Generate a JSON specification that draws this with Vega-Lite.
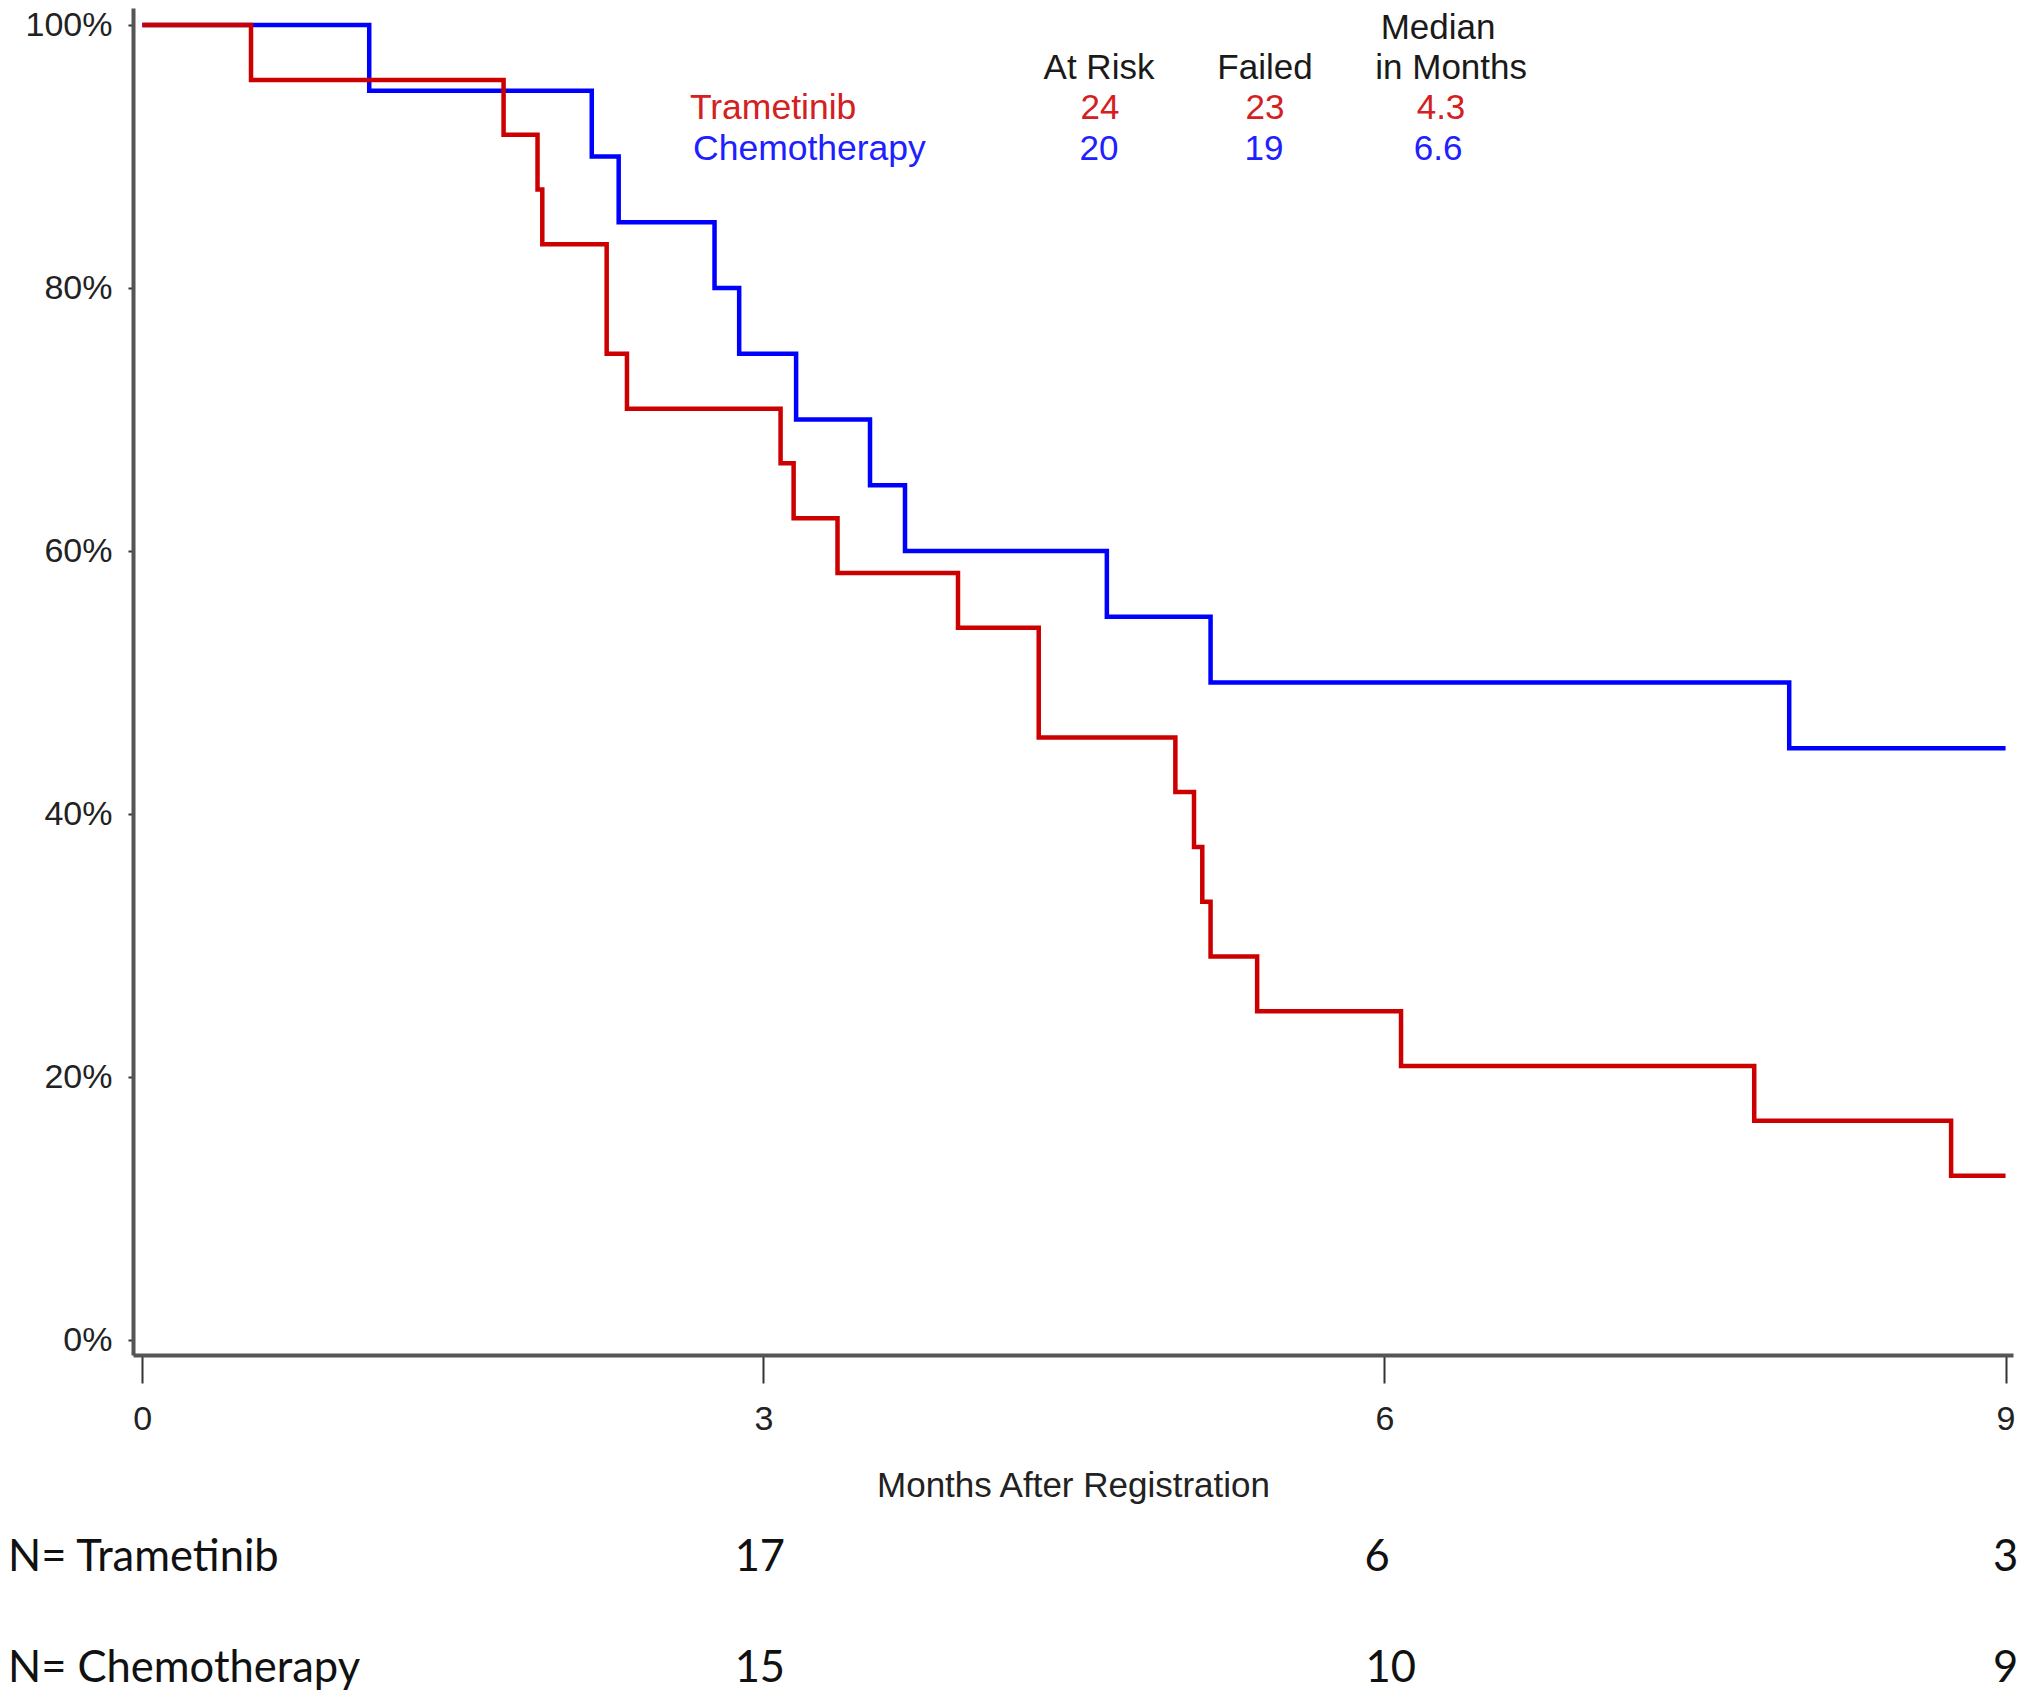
{
  "$schema": "https://vega.github.io/schema/vega-lite/v6.json",
  "width": 1880,
  "height": 1347,
  "autosize": {"type": "none"},
  "padding": {"left": 133, "top": 8, "right": 17, "bottom": 341},
  "background": "white",
  "config": {"view": {"stroke": null}, "font": "Liberation Sans"},
  "datasets": {
    "curves": [
      {"arm": "Trametinib", "month": 0, "surv": 1.0},
      {"arm": "Trametinib", "month": 0.525, "surv": 0.9583},
      {"arm": "Trametinib", "month": 1.745, "surv": 0.9167},
      {"arm": "Trametinib", "month": 1.909, "surv": 0.875},
      {"arm": "Trametinib", "month": 1.932, "surv": 0.8333},
      {"arm": "Trametinib", "month": 2.243, "surv": 0.75},
      {"arm": "Trametinib", "month": 2.341, "surv": 0.7083},
      {"arm": "Trametinib", "month": 3.083, "surv": 0.6667},
      {"arm": "Trametinib", "month": 3.146, "surv": 0.625},
      {"arm": "Trametinib", "month": 3.358, "surv": 0.5833},
      {"arm": "Trametinib", "month": 3.94, "surv": 0.5417},
      {"arm": "Trametinib", "month": 4.33, "surv": 0.4583},
      {"arm": "Trametinib", "month": 4.99, "surv": 0.4167},
      {"arm": "Trametinib", "month": 5.08, "surv": 0.375},
      {"arm": "Trametinib", "month": 5.12, "surv": 0.3333},
      {"arm": "Trametinib", "month": 5.16, "surv": 0.2917},
      {"arm": "Trametinib", "month": 5.385, "surv": 0.25},
      {"arm": "Trametinib", "month": 6.08, "surv": 0.2083},
      {"arm": "Trametinib", "month": 7.786, "surv": 0.1667},
      {"arm": "Trametinib", "month": 8.737, "surv": 0.125},
      {"arm": "Trametinib", "month": 9.0, "surv": 0.125},
      {"arm": "Chemotherapy", "month": 0, "surv": 1.0},
      {"arm": "Chemotherapy", "month": 1.096, "surv": 0.95},
      {"arm": "Chemotherapy", "month": 2.171, "surv": 0.9},
      {"arm": "Chemotherapy", "month": 2.301, "surv": 0.85},
      {"arm": "Chemotherapy", "month": 2.764, "surv": 0.8},
      {"arm": "Chemotherapy", "month": 2.883, "surv": 0.75},
      {"arm": "Chemotherapy", "month": 3.158, "surv": 0.7},
      {"arm": "Chemotherapy", "month": 3.515, "surv": 0.65},
      {"arm": "Chemotherapy", "month": 3.684, "surv": 0.6},
      {"arm": "Chemotherapy", "month": 4.659, "surv": 0.55},
      {"arm": "Chemotherapy", "month": 5.16, "surv": 0.5},
      {"arm": "Chemotherapy", "month": 7.955, "surv": 0.45},
      {"arm": "Chemotherapy", "month": 9.0, "surv": 0.45}
    ],
    "summary": [
      {"arm": "header", "label": "Median", "month": 6.259, "surv": 0.998},
      {"arm": "header", "label": "At Risk", "month": 4.621, "surv": 0.967},
      {"arm": "header", "label": "Failed", "month": 5.423, "surv": 0.967},
      {"arm": "header", "label": "in Months", "month": 6.322, "surv": 0.967},
      {"arm": "Trametinib", "label": "24", "month": 4.626, "surv": 0.9366},
      {"arm": "Trametinib", "label": "23", "month": 5.423, "surv": 0.9366},
      {"arm": "Trametinib", "label": "4.3", "month": 6.273, "surv": 0.9366},
      {"arm": "Chemotherapy", "label": "20", "month": 4.621, "surv": 0.9055},
      {"arm": "Chemotherapy", "label": "19", "month": 5.418, "surv": 0.9055},
      {"arm": "Chemotherapy", "label": "6.6", "month": 6.259, "surv": 0.9055}
    ],
    "armnames": [
      {"arm": "Trametinib", "label": "Trametinib", "month": 2.645, "surv": 0.9366},
      {"arm": "Chemotherapy", "label": "Chemotherapy", "month": 2.66, "surv": 0.9055}
    ],
    "risklabels": [
      {"arm": "Trametinib", "label": "N= Trametinib", "month": -0.649, "surv": -0.1755},
      {"arm": "Chemotherapy", "label": "N= Chemotherapy", "month": -0.649, "surv": -0.26}
    ],
    "risk": [
      {"arm": "Trametinib", "label": "17", "month": 2.983, "surv": -0.1755},
      {"arm": "Trametinib", "label": "6", "month": 5.964, "surv": -0.1755},
      {"arm": "Trametinib", "label": "3", "month": 9.0, "surv": -0.1755},
      {"arm": "Chemotherapy", "label": "15", "month": 2.983, "surv": -0.26},
      {"arm": "Chemotherapy", "label": "10", "month": 6.03, "surv": -0.26},
      {"arm": "Chemotherapy", "label": "9", "month": 9.0, "surv": -0.26}
    ]
  },
  "encoding": {
    "x": {
      "field": "month",
      "type": "quantitative",
      "scale": {"domain": [-0.045, 9.036], "nice": false, "zero": false},
      "axis": {
        "title": "Months After Registration",
        "values": [0, 3, 6, 9],
        "format": "d",
        "grid": false,
        "labelFlush": false,
        "labelFont": "Liberation Sans",
        "labelFontSize": 34,
        "labelColor": "#222222",
        "labelPadding": 19,
        "tickSize": 28,
        "tickWidth": 2,
        "tickColor": "#333333",
        "domainColor": "#555555",
        "domainWidth": 4,
        "titleFont": "Liberation Sans",
        "titleFontSize": 35,
        "titleFontWeight": "normal",
        "titleColor": "#222222",
        "titlePadding": 32
      }
    },
    "y": {
      "field": "surv",
      "type": "quantitative",
      "scale": {"domain": [-0.0114, 1.013], "nice": false, "zero": false},
      "axis": {
        "title": null,
        "values": [0, 0.2, 0.4, 0.6, 0.8, 1.0],
        "format": ".0%",
        "grid": false,
        "labelFont": "Liberation Sans",
        "labelFontSize": 34,
        "labelColor": "#222222",
        "labelPadding": 16,
        "tickSize": 5,
        "tickWidth": 2,
        "tickColor": "#333333",
        "domainColor": "#555555",
        "domainWidth": 4
      }
    }
  },
  "layer": [
    {
      "data": {"name": "curves"},
      "transform": [{"filter": "datum.arm === 'Chemotherapy'"}],
      "mark": {"type": "line", "interpolate": "step-after", "strokeWidth": 4.5, "color": "#0000FF"}
    },
    {
      "data": {"name": "curves"},
      "transform": [{"filter": "datum.arm === 'Trametinib'"}],
      "mark": {"type": "line", "interpolate": "step-after", "strokeWidth": 4.5, "color": "#CC0000"}
    },
    {
      "data": {"name": "summary"},
      "mark": {"type": "text", "align": "center", "baseline": "middle", "font": "Liberation Sans", "fontSize": 35},
      "encoding": {
        "text": {"field": "label"},
        "color": {"field": "arm", "type": "nominal", "scale": {"domain": ["Trametinib", "Chemotherapy", "header"], "range": ["#D42020", "#2020FF", "#1a1a1a"]}, "legend": null}
      }
    },
    {
      "data": {"name": "armnames"},
      "mark": {"type": "text", "align": "left", "baseline": "middle", "font": "Liberation Sans", "fontSize": 35.5},
      "encoding": {
        "text": {"field": "label"},
        "color": {"field": "arm", "type": "nominal", "legend": null}
      }
    },
    {
      "data": {"name": "risklabels"},
      "mark": {"type": "text", "align": "left", "baseline": "alphabetic", "font": "Lato", "fontSize": 43.5, "color": "#111111"},
      "encoding": {"text": {"field": "label"}}
    },
    {
      "data": {"name": "risk"},
      "mark": {"type": "text", "align": "center", "baseline": "alphabetic", "font": "Lato", "fontSize": 43.5, "color": "#111111"},
      "encoding": {"text": {"field": "label"}}
    }
  ]
}
